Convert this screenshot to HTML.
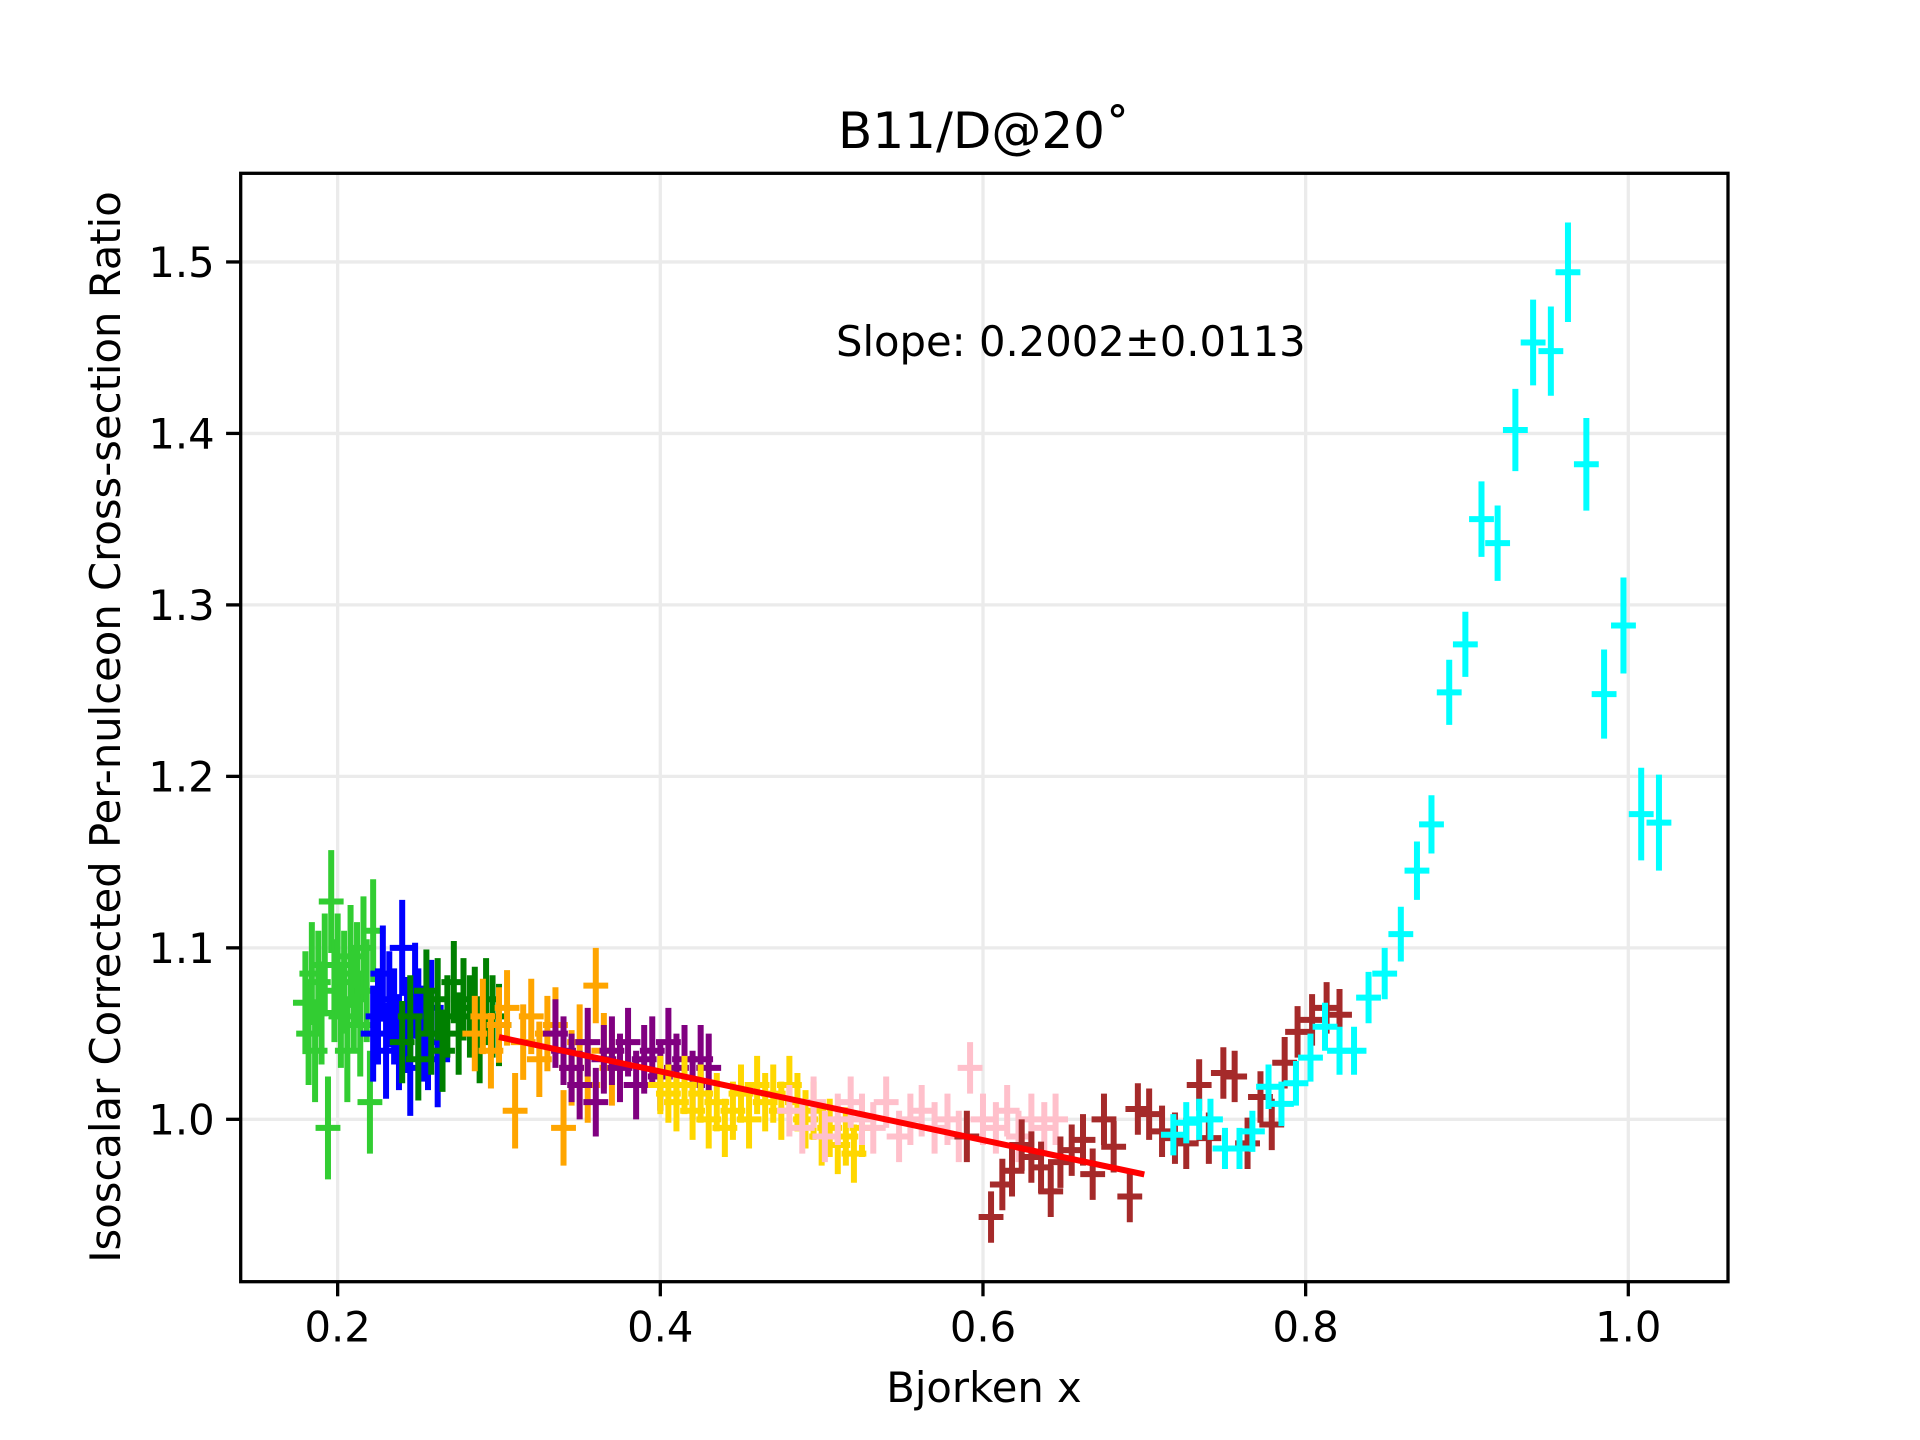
<!DOCTYPE html>
<html><head><meta charset="utf-8"><style>
html,body{margin:0;padding:0;background:#fff;}
svg{display:block;font-family:"DejaVu Sans","Liberation Sans",sans-serif;}
</style></head><body>
<svg id="chart" width="1920" height="1440" viewBox="0 0 1920 1440" xmlns="http://www.w3.org/2000/svg">
<rect width="1920" height="1440" fill="#fff"/>
<g id="grid"></g>
<g id="marks"></g>
<g id="axes"></g>
<text x="984" y="148" font-size="50" text-anchor="middle">B11/D@20˚</text>
<text x="836" y="356" font-size="41.7">Slope: 0.2002±0.0113</text>
<text x="984" y="1402" font-size="41.7" text-anchor="middle">Bjorken x</text>
<text transform="translate(120,727) rotate(-90)" font-size="41.7" text-anchor="middle">Isoscalar Corrected Per-nulceon Cross-section Ratio</text>
</svg>
<script>
const xTicks=[0.2,0.4,0.6,0.8,1.0];
const xTickLabels=["0.2","0.4","0.6","0.8","1.0"];
const yTicks=[1.0,1.1,1.2,1.3,1.4,1.5];
const yTickLabels=["1.0","1.1","1.2","1.3","1.4","1.5"];
const seriesNames=["limegreen","blue","green","orange","purple","gold","pink","brown","cyan"];
const limeX=[0.180,0.182,0.184,0.186,0.188,0.190,0.192,0.194,0.196,0.198,0.200,0.202,0.204,0.206,0.208,0.210,0.212,0.214,0.216,0.218,0.220,0.222];
const limeY=[1.068,1.050,1.085,1.040,1.080,1.062,1.090,0.995,1.127,1.075,1.090,1.060,1.080,1.040,1.095,1.070,1.085,1.055,1.100,1.075,1.010,1.110];
const blueX=[0.222,0.225,0.228,0.230,0.232,0.235,0.238,0.240,0.243,0.245,0.248,0.250,0.253,0.256,0.258,0.262];
const blueY=[1.050,1.060,1.085,1.040,1.070,1.060,1.045,1.100,1.055,1.030,1.075,1.060,1.050,1.045,1.065,1.035];
const greenX=[0.240,0.245,0.250,0.255,0.258,0.262,0.265,0.268,0.272,0.275,0.278,0.282,0.285,0.288,0.292,0.296,0.300];
const greenY=[1.045,1.060,1.035,1.075,1.050,1.070,1.040,1.060,1.080,1.050,1.070,1.060,1.065,1.045,1.070,1.060,1.055];
const orangeX=[0.285,0.290,0.295,0.300,0.305,0.310,0.315,0.320,0.325,0.330,0.335,0.340,0.345,0.350,0.355,0.360,0.365,0.370];
const orangeY=[1.050,1.060,1.040,1.055,1.065,1.005,1.045,1.060,1.035,1.050,1.055,0.995,1.030,1.045,1.020,1.078,1.040,1.030];
const purpleX=[0.335,0.340,0.345,0.350,0.355,0.360,0.365,0.370,0.375,0.380,0.385,0.390,0.395,0.400,0.405,0.410,0.415,0.420,0.425,0.430];
const purpleY=[1.050,1.040,1.030,1.020,1.045,1.010,1.035,1.040,1.030,1.045,1.020,1.035,1.040,1.025,1.045,1.030,1.035,1.020,1.035,1.030];
const goldX=[0.400,0.405,0.410,0.415,0.420,0.425,0.430,0.435,0.440,0.445,0.450,0.455,0.460,0.465,0.470,0.475,0.480,0.485,0.490,0.495,0.500,0.505,0.510,0.515,0.520,0.525];
const goldY=[1.020,1.015,1.010,1.020,1.005,1.015,1.000,1.010,0.995,1.005,1.015,1.000,1.020,1.010,1.015,1.005,1.020,1.010,1.000,1.005,0.990,0.995,0.985,0.990,0.980,0.995];
const pinkX=[0.480,0.488,0.495,0.502,0.510,0.518,0.525,0.532,0.540,0.548,0.555,0.562,0.570,0.578,0.585,0.592,0.600,0.608,0.615,0.622,0.630,0.638,0.645];
const pinkY=[1.005,0.995,1.010,0.990,1.000,1.010,1.000,0.995,1.010,0.990,1.000,1.005,0.995,1.000,0.990,1.030,1.000,0.995,1.005,0.990,1.000,0.995,1.000];
const brownX=[0.590,0.605,0.612,0.618,0.624,0.630,0.636,0.642,0.648,0.655,0.662,0.668,0.675,0.681,0.691,0.696,0.703,0.711,0.719,0.726,0.734,0.740,0.749,0.756,0.764,0.772,0.779,0.787,0.795,0.804,0.813,0.821];
const brownY=[0.990,0.943,0.962,0.970,0.985,0.978,0.972,0.958,0.975,0.982,0.988,0.968,1.000,0.984,0.955,1.006,1.003,0.993,0.989,0.986,1.020,0.989,1.027,1.025,0.986,1.013,0.997,1.033,1.051,1.058,1.065,1.061];
const cyanX=[0.718,0.726,0.734,0.741,0.750,0.759,0.767,0.777,0.785,0.794,0.803,0.812,0.821,0.830,0.839,0.849,0.859,0.869,0.878,0.889,0.899,0.909,0.919,0.930,0.941,0.952,0.9626,0.974,0.985,0.997,1.008,1.019];
const cyanY=[0.991,0.998,1.000,1.000,0.983,0.983,0.993,1.019,1.009,1.021,1.036,1.054,1.040,1.040,1.071,1.085,1.108,1.145,1.172,1.249,1.277,1.350,1.336,1.402,1.453,1.448,1.494,1.382,1.248,1.288,1.178,1.173];
const cyanErr=[0.012,0.012,0.012,0.012,0.012,0.012,0.012,0.013,0.013,0.013,0.014,0.014,0.014,0.014,0.015,0.015,0.016,0.017,0.017,0.019,0.019,0.022,0.022,0.024,0.025,0.026,0.029,0.027,0.026,0.028,0.027,0.028];
const limeErr=0.03, blueErr=0.028, greenErr=0.024, orangeErr=0.022, purpleErr=0.02, goldErr=0.017, pinkErr=0.015, brownErr=0.015;
const fitX=[0.30,0.70];
const fitSlope=-0.2002, fitIntercept=1.108;

const L=240.7,R=1728,T=173.3,B=1281.7;
const xMin=0.1399,xMax=1.0618,yMin=0.9053,yMax=1.5517;
const sx=v=>L+(v-xMin)/(xMax-xMin)*(R-L);
const sy=v=>B-(v-yMin)/(yMax-yMin)*(B-T);
const NS="http://www.w3.org/2000/svg";
function mk(tag,attrs,parent){const e=document.createElementNS(NS,tag);for(const k in attrs)e.setAttribute(k,attrs[k]);parent.appendChild(e);return e;}
const grid=document.getElementById('grid'),marks=document.getElementById('marks'),axes=document.getElementById('axes');
xTicks.forEach((t,i)=>{
  const l=mk('line',{x1:sx(t),x2:sx(t),y1:T,y2:B,stroke:'#ebebeb','stroke-width':3.3},grid);
  
  
  const tk=mk('line',{x1:sx(t),x2:sx(t),y1:B,y2:B+14.6,stroke:'#000','stroke-width':3.3},axes);
  
  
  const tx=mk('text',{x:sx(t),y:B+60,'font-size':41.7,'text-anchor':'middle'},axes);
  tx.textContent=xTickLabels[i];
  
  
});
yTicks.forEach((t,i)=>{
  const l=mk('line',{x1:L,x2:R,y1:sy(t),y2:sy(t),stroke:'#ebebeb','stroke-width':3.3},grid);
  
  
  const tk=mk('line',{x1:L-14.6,x2:L,y1:sy(t),y2:sy(t),stroke:'#000','stroke-width':3.3},axes);
  
  
  const tx=mk('text',{x:L-26,y:sy(t)+15,'font-size':41.7,'text-anchor':'end'},axes);
  tx.textContent=yTickLabels[i];
  
  
});
const frame=mk('rect',{x:L,y:T,width:R-L,height:B-T,fill:'none',stroke:'#000','stroke-width':3.3},axes);


const series=[[limeX,limeY,limeErr,'#32cd32'],[blueX,blueY,blueErr,'#0000ff'],[greenX,greenY,greenErr,'#008000'],[orangeX,orangeY,orangeErr,'#ffa500'],[purpleX,purpleY,purpleErr,'#800080'],[goldX,goldY,goldErr,'#ffd700'],[pinkX,pinkY,pinkErr,'#ffc0cb'],[brownX,brownY,brownErr,'#a52a2a'],[cyanX,cyanY,cyanErr,'#00ffff']];
const xErr=0.0077;
series.forEach((s,si)=>{
  const g=mk('g',{stroke:s[3],'stroke-width':6},marks);
  
  
  s[0].forEach((x,i)=>{
    const y=s[1][i]; if(y===undefined)return;
    const e=Array.isArray(s[2])?s[2][i]:s[2];
    const p=mk('path',{d:`M${sx(x)},${sy(y-e)}V${sy(y+e)}M${sx(x-xErr)},${sy(y)}H${sx(x+xErr)}`},g);
    
    
  });
});
const fit=mk('line',{x1:sx(fitX[0]),y1:sy(fitIntercept+fitSlope*fitX[0]),x2:sx(fitX[1]),y2:sy(fitIntercept+fitSlope*fitX[1]),stroke:'#ff0000','stroke-width':6},marks);


</script>
</body></html>
